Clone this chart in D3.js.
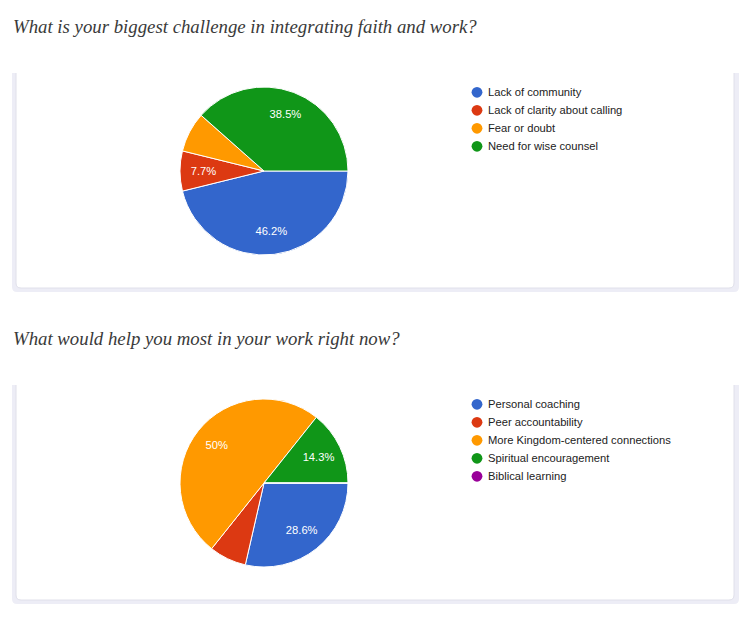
<!DOCTYPE html>
<html>
<head>
<meta charset="utf-8">
<script src="https://cdn.jsdelivr.net/npm/d3@7"></script>
<style>
  body { margin: 0; background: #fff; }
  svg { display: block; }
</style>
</head>
<body>
<svg></svg>
<script>
// Two survey pie charts, Google Forms style.

const width = 755;
const height = 618;

const questionTitles = [
  "What is your biggest challenge in integrating faith and work?",
  "What would help you most in your work right now?",
];

const challengeLabels = [
  "Lack of community",
  "Lack of clarity about calling",
  "Fear or doubt",
  "Need for wise counsel",
];
const challengeValues = [6, 1, 1, 5];
const challengeSliceText = ["46.2%", "7.7%", "", "38.5%"];

const helpLabels = [
  "Personal coaching",
  "Peer accountability",
  "More Kingdom-centered connections",
  "Spiritual encouragement",
  "Biblical learning",
];
const helpValues = [4, 1, 7, 2, 0];
const helpSliceText = ["28.6%", "", "50%", "14.3%", ""];

const sliceColors = ["#3366cc", "#dc3912", "#ff9900", "#109618", "#990099"];

const panelTops = [73, 385];
const radius = 84;

const svg = d3.select("svg").attr("width", width).attr("height", height);

const pie = d3
  .pie()
  .sort(null)
  .startAngle(Math.PI / 2)
  .endAngle(Math.PI / 2 + 2 * Math.PI);

const arc = d3.arc().innerRadius(0).outerRadius(radius);
const labelArc = d3
  .arc()
  .innerRadius(radius * 0.72)
  .outerRadius(radius * 0.72);

const color = d3.scaleOrdinal().range(sliceColors);

const drawCard = (top) => {
  const bottom = top + 219;
  // lavender shadow behind the card
  const outer = d3.path();
  outer.moveTo(12, top);
  outer.lineTo(12, bottom - 5);
  outer.quadraticCurveTo(12, bottom, 17, bottom);
  outer.lineTo(734, bottom);
  outer.quadraticCurveTo(739, bottom, 739, bottom - 5);
  outer.lineTo(739, top);
  outer.closePath();
  svg.append("path").attr("d", outer.toString()).attr("fill", "#ededf6");

  const inner = d3.path();
  const ib = bottom - 4;
  inner.moveTo(16, top);
  inner.lineTo(16, ib - 5);
  inner.quadraticCurveTo(16, ib, 21, ib);
  inner.lineTo(729, ib);
  inner.quadraticCurveTo(734, ib, 734, ib - 5);
  inner.lineTo(734, top);
  svg
    .append("path")
    .attr("d", inner.toString())
    .attr("fill", "#fff")
    .attr("stroke", "#e0e0ea")
    .attr("stroke-width", 1);
};

const drawPanel = (index, labels, values, sliceText) => {
  const top = panelTops[index];

  svg
    .append("text")
    .attr("x", 13)
    .attr("y", top - 40)
    .attr("font-family", "'Liberation Serif', serif")
    .attr("font-style", "italic")
    .attr("font-size", 18.8)
    .attr("fill", "#3a3a3a")
    .text(questionTitles[index]);

  drawCard(top);

  color.domain(labels);

  const g = svg
    .append("g")
    .attr("transform", "translate(264," + (top + 98) + ")");

  const arcs = pie(values);

  g.selectAll("path")
    .data(arcs)
    .enter()
    .append("path")
    .attr("d", arc)
    .attr("fill", (d, i) => color(labels[i]))
    .attr("stroke", "#fff")
    .attr("stroke-width", 1);

  g.selectAll("text")
    .data(arcs)
    .enter()
    .append("text")
    .attr("transform", (d) => "translate(" + labelArc.centroid(d) + ")")
    .attr("text-anchor", "middle")
    .attr("dy", "0.35em")
    .attr("font-family", "'Liberation Sans', Arial, sans-serif")
    .attr("font-size", 11.2)
    .attr("fill", "#fff")
    .text((d, i) => sliceText[i]);

  const legendY = d3
    .scalePoint()
    .domain(labels)
    .range([top + 19.3, top + 19.3 + 18 * (labels.length - 1)]);

  const legend = svg
    .append("g")
    .selectAll("g")
    .data(labels)
    .enter()
    .append("g")
    .attr("transform", (d) => "translate(477," + legendY(d) + ")");

  legend
    .append("circle")
    .attr("r", 5.4)
    .attr("fill", (d) => color(d));

  legend
    .append("text")
    .attr("x", 11)
    .attr("dy", "0.35em")
    .attr("font-family", "'Liberation Sans', Arial, sans-serif")
    .attr("font-size", 11.2)
    .attr("fill", "#222")
    .text((d) => d);
};

drawPanel(0, challengeLabels, challengeValues, challengeSliceText);
drawPanel(1, helpLabels, helpValues, helpSliceText);
</script>
</body>
</html>
